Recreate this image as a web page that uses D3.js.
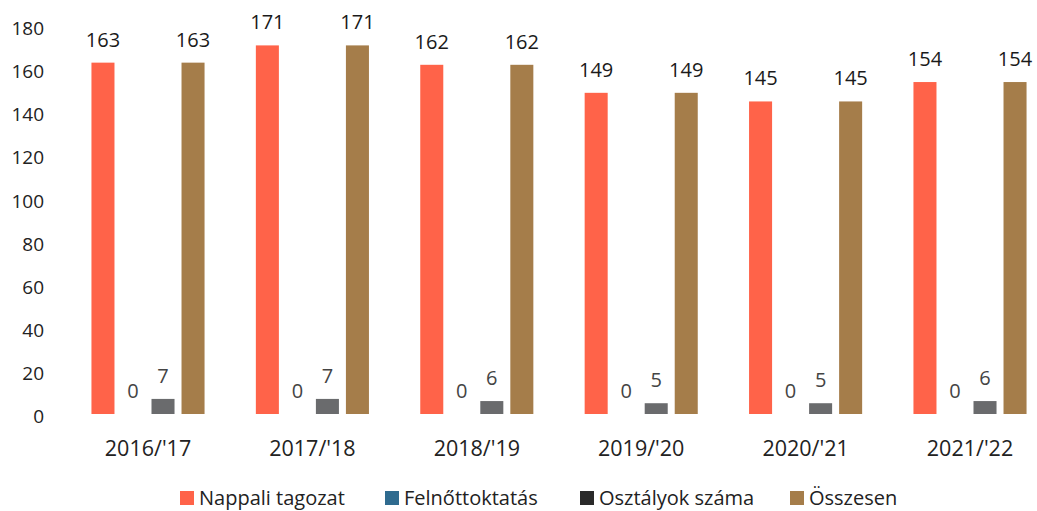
<!DOCTYPE html>
<html><head><meta charset="utf-8">
<script src="https://cdn.jsdelivr.net/npm/d3@7"></script>
<style>body{margin:0;background:#fff}svg{display:block;font-family:"Open Sans",sans-serif}</style>
</head><body><svg id="c" width="1037" height="511"></svg>
<script>
const categories = ["2016/'17","2017/'18","2018/'19","2019/'20","2020/'21","2021/'22"];
const seriesNames = ["Nappali tagozat","Felnőttoktatás","Osztályok száma","Összesen"];
const nappali = [163,171,162,149,145,154];
const felnott = [0,0,0,0,0,0];
const osztaly = [7,7,6,5,5,6];
const osszesen = [163,171,162,149,145,154];
const yTicks = [0,20,40,60,80,100,120,140,160,180];
const barColors = ["#FF6349","#2F6B8F","#6A6B6D","#A57D4A"];
const legendColors = ["#FF6349","#2F6B8F","#2A2A2A","#A57D4A"];
const seriesValues = [nappali, felnott, osztaly, osszesen];

const svg = d3.select("#c");
const x0 = d3.scaleBand().domain(categories).range([65.8,1052.2]).paddingInner(0.227).paddingOuter(0.1135);
const x1 = d3.scaleBand().domain(seriesNames).range([0,x0.bandwidth()]).padding(0.233);
const y = d3.scaleLinear().domain([0,180]).range([414,26]);

// y axis labels
const yAxis = d3.axisLeft(y).tickValues(yTicks).tickSize(0).tickPadding(0);
const gy = svg.append("g").attr("transform","translate(44,0)").call(yAxis);
gy.select(".domain").remove();
gy.selectAll("text").attr("font-size",19).attr("fill","#222").attr("font-family","'Open Sans',sans-serif").attr("dy","0.45em");

// x axis labels
const xAxis = d3.axisBottom(x0).tickSize(0).tickPadding(0);
const gx = svg.append("g").attr("transform","translate(0,456)").call(xAxis);
gx.select(".domain").remove();
gx.selectAll("text").attr("font-size",21.5).attr("fill","#222").attr("font-family","'Open Sans',sans-serif").attr("dy","0");

const groups = svg.append("g").selectAll("g").data(categories).join("g")
  .attr("transform",d=>`translate(${x0(d)},0)`);

seriesNames.forEach((s,si)=>{
  groups.append("rect")
    .attr("x",x1(s)).attr("width",x1.bandwidth())
    .attr("y",(d,i)=>y(seriesValues[si][i]))
    .attr("height",(d,i)=>y(0)-y(seriesValues[si][i]))
    .attr("fill",barColors[si]);
  groups.append("text")
    .attr("x",x1(s)+x1.bandwidth()/2)
    .attr("y",(d,i)=>y(seriesValues[si][i]) - 16)
    .attr("text-anchor","middle").attr("font-size",20)
    .attr("fill",(d,i)=>seriesValues[si][i] > 50 ? "#1a1a1a" : "#444")
    .text((d,i)=>seriesValues[si][i]);
});

// legend
const legendX = [180,385,580,790];
const lg = svg.append("g");
seriesNames.forEach((s,i)=>{
  lg.append("rect").attr("x",legendX[i]).attr("y",491).attr("width",14).attr("height",14).attr("fill",legendColors[i]);
  lg.append("text").attr("x",legendX[i]+19).attr("y",505).attr("font-size",20).attr("fill","#222").text(s);
});
</script></body></html>
